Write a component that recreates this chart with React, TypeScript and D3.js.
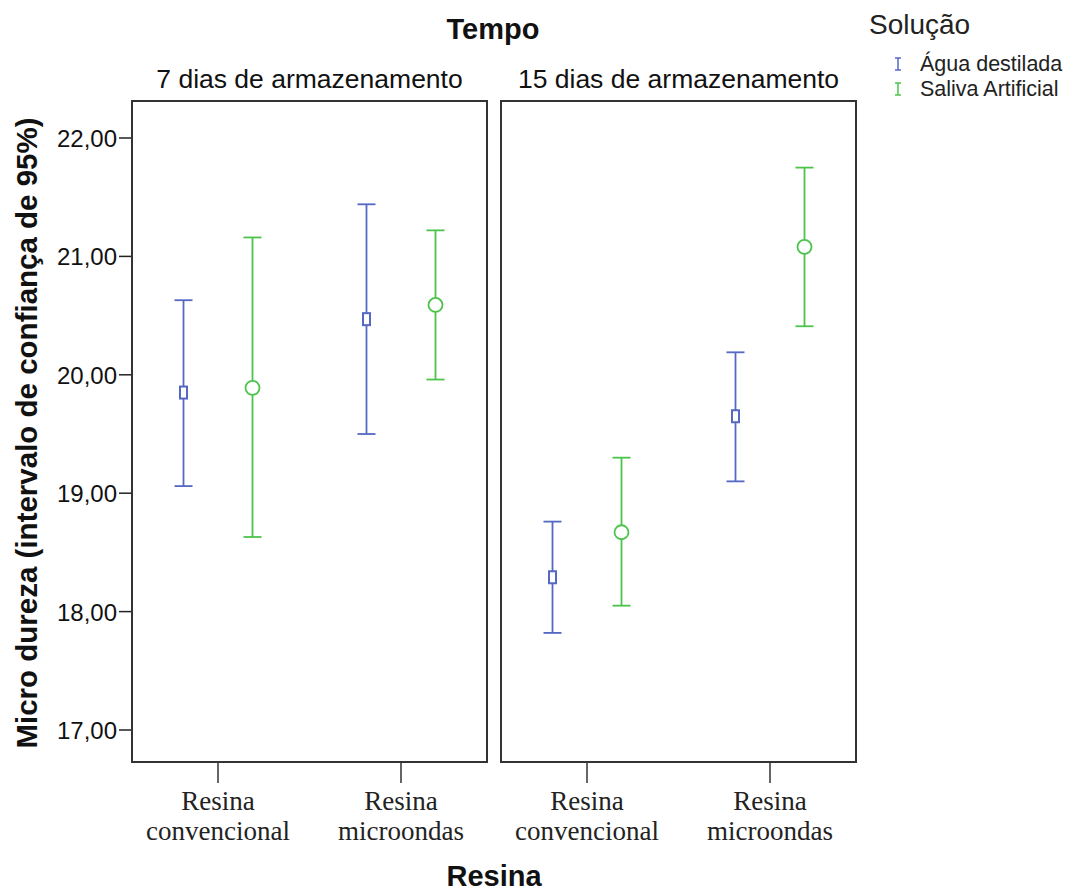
import React from 'react';
import * as d3 from 'd3';

const panels = ['7 dias de armazenamento', '15 dias de armazenamento'];
const resinas = ['Resina convencional', 'Resina microondas'];
const solucoes = ['Água destilada', 'Saliva Artificial'];
const colors = ['#5468c4', '#4cc44c'];
const yTicks = [17, 18, 19, 20, 21, 22];

// [panel][resina][solucao]
const means = [
  [[19.85, 19.89], [20.47, 20.59]],
  [[18.29, 18.67], [19.65, 21.08]],
];
const upper = [
  [[20.63, 21.16], [21.44, 21.22]],
  [[18.76, 19.30], [20.19, 21.75]],
];
const lower = [
  [[19.06, 18.63], [19.50, 19.96]],
  [[17.82, 18.05], [19.10, 20.41]],
];

const W = 1073;
const H = 891;
const panelX = [132, 501];
const panelW = 355;
const top = 101;
const bottom = 762;
const sans = 'Liberation Sans, Arial, sans-serif';
const serif = 'Liberation Serif, Times New Roman, serif';

const App = () => {
  const y = d3.scaleLinear().domain([17, 22]).range([730, 138]);
  const x = d3.scalePoint<string>().domain(resinas).range([0, panelW]).padding(0.47);
  const dodge = d3.scalePoint<string>().domain(solucoes).range([-34.5, 34.5]);
  const fmt = (v: number) => d3.format('.2f')(v).replace('.', ',');

  return (
    <svg width={W} height={H} style={{ position: 'absolute', left: 0, top: 0, background: '#fff' }}>
      <text x={493} y={39} textAnchor="middle" fontFamily={sans} fontWeight="bold" fontSize={29} fill="#111">Tempo</text>
      <text transform={`translate(37,433) rotate(-90)`} textAnchor="middle"
        fontFamily={sans} fontWeight="bold" fontSize={29.5} fill="#111">Micro dureza (intervalo de confiança de 95%)</text>
      <text x={494} y={886} textAnchor="middle" fontFamily={sans} fontWeight="bold" fontSize={29} fill="#111">Resina</text>

      {yTicks.map((t) => (
        <g key={t}>
          <line x1={119} x2={132} y1={y(t)} y2={y(t)} stroke="#222" strokeWidth={1.5} />
          <text x={117} y={y(t) + 9} textAnchor="end" fontFamily={sans} fontSize={24} fill="#111">{fmt(t)}</text>
        </g>
      ))}

      {panels.map((p, pi) => (
        <g key={p} transform={`translate(${panelX[pi]},0)`}>
          <text x={panelW / 2} y={88} textAnchor="middle" fontFamily={sans} fontSize={26.5} fill="#111">{p}</text>
          <rect x={0} y={top} width={panelW} height={bottom - top} fill="none" stroke="#333" strokeWidth={2} />
          {resinas.map((r) => {
            const [a, b] = r.split(' ');
            return (
              <g key={r}>
                <line x1={x(r)} x2={x(r)} y1={bottom} y2={783} stroke="#333" strokeWidth={1.5} />
                <text x={x(r)} textAnchor="middle" fontFamily={serif} fontSize={27} fill="#222">
                  <tspan x={x(r)} y={810}>{a}</tspan>
                  <tspan x={x(r)} y={840}>{b}</tspan>
                </text>
              </g>
            );
          })}
          {resinas.map((r, ri) =>
            solucoes.map((s, si) => {
              const cx = (x(r) as number) + (dodge(s) as number);
              const c = colors[si];
              const m = y(means[pi][ri][si]);
              return (
                <g key={r + s} stroke={c} fill="none" strokeWidth={1.8}>
                  <line x1={cx} x2={cx} y1={y(upper[pi][ri][si])} y2={y(lower[pi][ri][si])} />
                  <line x1={cx - 9} x2={cx + 9} y1={y(upper[pi][ri][si])} y2={y(upper[pi][ri][si])} />
                  <line x1={cx - 9} x2={cx + 9} y1={y(lower[pi][ri][si])} y2={y(lower[pi][ri][si])} />
                  {si === 0 ? (
                    <rect x={cx - 3.5} y={m - 6} width={7} height={12} fill="#fff" strokeWidth={2} />
                  ) : (
                    <circle cx={cx} cy={m} r={7} fill="#fff" strokeWidth={1.8} />
                  )}
                </g>
              );
            })
          )}
        </g>
      ))}

      <text x={869} y={34} fontFamily={sans} fontSize={28} fill="#222">Solução</text>
      {solucoes.map((s, i) => (
        <g key={s} transform={`translate(0,${64 + i * 25})`}>
          <g stroke={colors[i]} strokeWidth={1.5}>
            <line x1={898} x2={898} y1={-6} y2={6} />
            <line x1={895} x2={901} y1={-6} y2={-6} />
            <line x1={895} x2={901} y1={6} y2={6} />
          </g>
          <text x={920} y={7} fontFamily={sans} fontSize={21.5} fill="#222">{s}</text>
        </g>
      ))}
    </svg>
  );
};

export default App;
